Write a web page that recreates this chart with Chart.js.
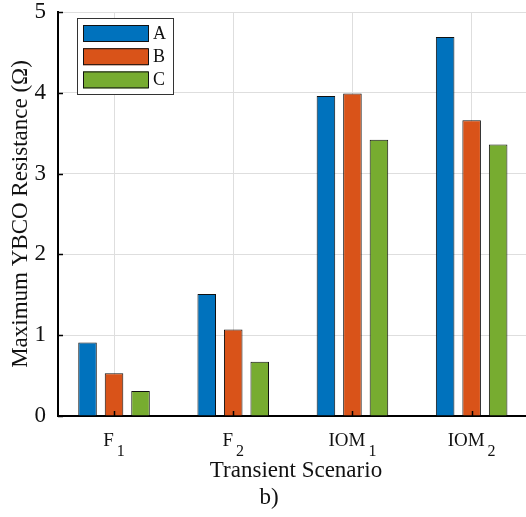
<!DOCTYPE html>
<html lang="en">
<head>
<meta charset="UTF-8">
<title>Maximum YBCO Resistance</title>
<script src="https://cdn.jsdelivr.net/npm/chart.js"></script>
<style>
    html, body { margin: 0; padding: 0; background: #fff; overflow: hidden; }
    .wrap { position: relative; width: 526px; height: 517px; }
</style>
</head>
<body>
<div class="wrap"><canvas id="chart"></canvas></div>
<script>
// data (TeX-style "_" marks the subscript)
const categories = ['F_1', 'F_2', 'IOM_1', 'IOM_2'];
const seriesNames = ['A', 'B', 'C'];
const seriesA = [0.91, 1.51, 3.96, 4.69];
const seriesB = [0.53, 1.07, 3.99, 3.66];
const seriesC = [0.31, 0.67, 3.42, 3.36];
const yTicks = [0, 1, 2, 3, 4, 5];

const colors = ['#0072BD', '#D95319', '#77AC30'];
const serif = "'Liberation Serif', 'Times New Roman', serif";
const ink = '#111';

const toPoints = vals => vals.map((v, i) => ({ x: i + 1, y: v }));

// ticks inside the box, tick labels with subscripts, x title, caption, legend
const decor = {
    id: 'decor',
    afterDraw(chart) {
        const { ctx, scales: { x, y }, chartArea: area } = chart;
        ctx.save();

        // inward tick marks
        ctx.strokeStyle = '#000';
        ctx.lineWidth = 1.5;
        ctx.beginPath();
        yTicks.forEach(t => {
            const py = Math.round(y.getPixelForValue(t)) + 0.5;
            ctx.moveTo(area.left, py);
            ctx.lineTo(area.left + 5, py);
        });
        categories.forEach((c, i) => {
            const px = Math.round(x.getPixelForValue(i + 1)) + 0.5;
            ctx.moveTo(px, area.bottom);
            ctx.lineTo(px, area.bottom - 5);
        });
        ctx.stroke();

        // category labels
        ctx.fillStyle = ink;
        ctx.textBaseline = 'alphabetic';
        ctx.textAlign = 'left';
        categories.forEach((c, i) => {
            const [base, sub] = c.split('_');
            ctx.font = '19px ' + serif;
            const wb = ctx.measureText(base).width;
            ctx.font = '16px ' + serif;
            const ws = ctx.measureText(sub).width;
            const gap = 3;
            const cx = x.getPixelForValue(i + 1);
            const x0 = cx - (wb + gap + ws) / 2;
            ctx.font = '19px ' + serif;
            ctx.fillText(base, x0, 446);
            ctx.font = '16px ' + serif;
            ctx.fillText(sub, x0 + wb + gap, 455.5);
        });

        // x title and caption
        ctx.textAlign = 'center';
        ctx.font = '23px ' + serif;
        ctx.fillText('Transient Scenario', 296, 477);
        ctx.fillText('b)', 269, 504);

        // legend
        ctx.fillStyle = '#fff';
        ctx.strokeStyle = '#333';
        ctx.lineWidth = 1;
        ctx.fillRect(77, 18, 96, 76);
        ctx.strokeRect(77.5, 18.5, 96, 76);
        ctx.font = '18px ' + serif;
        ctx.textAlign = 'left';
        ctx.textBaseline = 'middle';
        chart.data.datasets.forEach((ds, i) => {
            const y0 = 25 + i * 23.2;
            ctx.fillStyle = ds.backgroundColor;
            ctx.fillRect(83, y0, 65, 17);
            ctx.strokeStyle = ink;
            ctx.strokeRect(83.5, y0 + 0.5, 65, 16);
            ctx.fillStyle = ink;
            ctx.fillText(ds.label, 153, y0 + 9);
        });

        ctx.restore();
    }
};

new Chart(document.getElementById('chart'), {
    type: 'bar',
    data: {
        datasets: [seriesA, seriesB, seriesC].map((vals, i) => ({
            label: seriesNames[i],
            data: toPoints(vals),
            backgroundColor: colors[i],
            borderColor: ink,
            borderWidth: 1,
            categoryPercentage: 0.667,
            barPercentage: 0.70
        }))
    },
    options: {
        responsive: true,
        maintainAspectRatio: false,
        animation: false,
        layout: { padding: { top: 12, right: 0, bottom: 0, left: 0 } },
        plugins: { legend: { display: false }, tooltip: { enabled: false } },
        scales: {
            x: {
                type: 'linear',
                offset: false,
                min: 0.53,
                max: 4.456,
                border: { color: '#000', width: 2 },
                grid: { color: '#dedede', drawTicks: false, offset: false },
                ticks: { stepSize: 1, includeBounds: false, display: false },
                afterFit: s => { s.height = 101; }
            },
            y: {
                min: 0,
                max: 5,
                border: { color: '#000', width: 2 },
                grid: { color: '#dedede', drawTicks: false },
                ticks: {
                    stepSize: 1,
                    padding: 12,
                    color: ink,
                    font: { family: serif, size: 23 }
                },
                title: {
                    display: true,
                    text: 'Maximum YBCO Resistance (Ω)',
                    color: ink,
                    font: { family: serif, size: 23 },
                    padding: { top: 7, bottom: 0 }
                },
                afterFit: s => {
                    s.width = 58;
                    s.paddingTop = 0;
                    s.paddingBottom = 0;
                }
            }
        }
    },
    plugins: [decor]
});
</script>
</body>
</html>
